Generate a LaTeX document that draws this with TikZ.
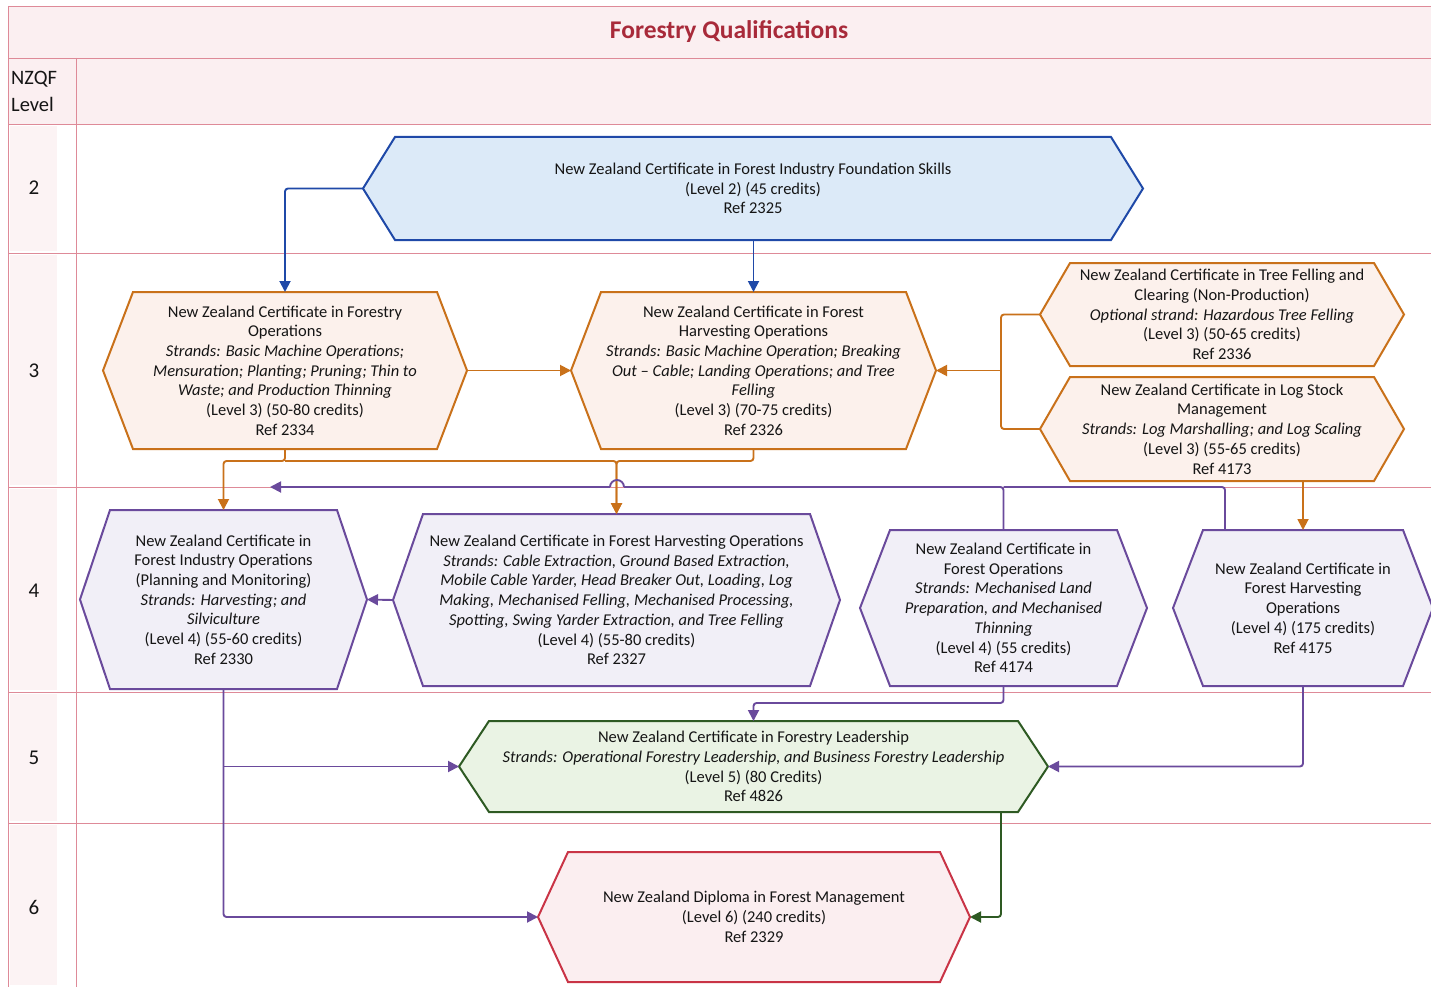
\documentclass[tikz,border=0pt]{standalone}
\usepackage{fontspec}
\setmainfont{Carlito}
\usetikzlibrary{arrows.meta,calc}
\definecolor{bluB}{HTML}{1F49A8}\definecolor{bluF}{HTML}{DCEAF8}
\definecolor{orgB}{HTML}{C9711A}\definecolor{orgF}{HTML}{FCF1EC}
\definecolor{purB}{HTML}{6A4A9C}\definecolor{purF}{HTML}{F1EFF7}
\definecolor{grnB}{HTML}{2E5A23}\definecolor{grnF}{HTML}{EAF3E4}
\definecolor{redB}{HTML}{C93446}\definecolor{redF}{HTML}{FBEEF0}
\definecolor{tblL}{HTML}{DE8A98}\definecolor{hdrF}{HTML}{FBEFF1}\definecolor{strF}{HTML}{FCF3F4}
\definecolor{ttlC}{HTML}{A82A3A}\definecolor{txtC}{HTML}{151515}
\tikzset{
  hexs/.style={line width=2pt, line join=miter},
  bluehex/.style={draw=bluB, fill=bluF},
  orghex/.style={draw=orgB, fill=orgF},
  purhex/.style={draw=purB, fill=purF},
  grnhex/.style={draw=grnB, fill=grnF},
  redhex/.style={draw=redB, fill=redF},
  txt/.style={align=center, inner sep=0pt, text=txtC, font=\fontsize{16.5}{19.7}\selectfont},
  line/.style={line width=1.9pt, rounded corners=3pt},
  conn/.style={line, -{Triangle[length=11pt,width=11pt]}},
  tbl/.style={draw=tblL, line width=0.9pt},
  lvl/.style={inner sep=0pt, text=txtC, font=\fontsize{21}{24}\selectfont}
}
\newcommand{\hexnode}[8]{%
  \path[hexs,#7] (#2-#4,#3) -- (#2-#4+#6,#3-#5) -- (#2+#4-#6,#3-#5) -- (#2+#4,#3) -- (#2+#4-#6,#3+#5) -- (#2-#4+#6,#3+#5) -- cycle;
  \node[inner sep=0pt, outer sep=0pt, minimum width={2*#4pt}, minimum height={2*#5pt}] (#1) at (#2,#3) {};
  \node[txt] (#1-t) at (#2,#3) {#8};
}
\begin{document}
\begin{tikzpicture}[x=1pt,y=-1pt]
\useasboundingbox (0,0) rectangle (1431,987);
% table
\fill[hdrF] (8,6) rectangle (1431,124);
\foreach \a/\b in {124/253,253/487,487/692,692/823,823/987}{
  \fill[strF] (10,\a+2) rectangle (57,\b-2);
}
\foreach \yy in {6,58,124,253,487,692,823}{
  \draw[tbl] (8,\yy) -- (1431,\yy);
}
\draw[tbl] (8,6) -- (8,987);
\draw[tbl] (76,58) -- (76,987);
\node[inner sep=0pt, text=ttlC, font=\fontsize{25.5}{28}\selectfont\bfseries] (title) at (729,32) {Forestry Qualifications};
\node[inner sep=0pt, anchor=west, align=left, text=txtC, font=\fontsize{20.5}{27}\selectfont] (hdr) at (11,91) {NZQF\\Level};
\node[lvl] (l2) at (34,188) {2};
\node[lvl] (l3) at (34,371) {3};
\node[lvl] (l4) at (34,591) {4};
\node[lvl] (l5) at (34,758) {5};
\node[lvl] (l6) at (34,907) {6};
% shapes
\hexnode{Bl}{753}{188.5}{390}{51.5}{32}{bluehex}{New Zealand Certificate in Forest Industry Foundation Skills\\(Level 2) (45 credits)\\Ref 2325}
\hexnode{A}{285}{370.5}{182}{78.5}{30}{orghex}{New Zealand Certificate in Forestry\\Operations\\\textit{Strands: Basic Machine Operations;}\\\textit{Mensuration; Planting; Pruning; Thin to}\\\textit{Waste; and Production Thinning}\\(Level 3) (50-80 credits)\\Ref 2334}
\hexnode{B}{753.5}{370.5}{182.5}{78.5}{30}{orghex}{New Zealand Certificate in Forest\\Harvesting Operations\\\textit{Strands: Basic Machine Operation; Breaking}\\\textit{Out -- Cable; Landing Operations; and Tree}\\\textit{Felling}\\(Level 3) (70-75 credits)\\Ref 2326}
\hexnode{C}{1222}{314.5}{182}{51.5}{30}{orghex}{New Zealand Certificate in Tree Felling and\\Clearing (Non-Production)\\\textit{Optional strand: Hazardous Tree Felling}\\(Level 3) (50-65 credits)\\Ref 2336}
\hexnode{D}{1222}{429}{182}{52}{30}{orghex}{New Zealand Certificate in Log Stock\\Management\\\textit{Strands: Log Marshalling; and Log Scaling}\\(Level 3) (55-65 credits)\\Ref 4173}
\hexnode{E}{223.5}{599.5}{143.5}{89.5}{30}{purhex}{New Zealand Certificate in\\Forest Industry Operations\\(Planning and Monitoring)\\\textit{Strands: Harvesting; and}\\\textit{Silviculture}\\(Level 4) (55-60 credits)\\Ref 2330}
\hexnode{F}{616.5}{600}{223.5}{86}{30}{purhex}{New Zealand Certificate in Forest Harvesting Operations\\\textit{Strands: Cable Extraction, Ground Based Extraction,}\\\textit{Mobile Cable Yarder, Head Breaker Out, Loading, Log}\\\textit{Making, Mechanised Felling, Mechanised Processing,}\\\textit{Spotting, Swing Yarder Extraction, and Tree Felling}\\(Level 4) (55-80 credits)\\Ref 2327}
\hexnode{G}{1003.5}{608}{143.5}{78}{30}{purhex}{New Zealand Certificate in\\Forest Operations\\\textit{Strands: Mechanised Land}\\\textit{Preparation, and Mechanised}\\\textit{Thinning}\\(Level 4) (55 credits)\\Ref 4174}
\hexnode{H}{1303}{608}{130}{78}{30}{purhex}{New Zealand Certificate in\\Forest Harvesting\\Operations\\(Level 4) (175 credits)\\Ref 4175}
\hexnode{I}{753.5}{766.5}{294.5}{45.5}{30}{grnhex}{New Zealand Certificate in Forestry Leadership\\\textit{Strands: Operational Forestry Leadership, and Business Forestry Leadership}\\(Level 5) (80 Credits)\\Ref 4826}
\hexnode{J}{754}{917}{216}{65}{30}{redhex}{New Zealand Diploma in Forest Management\\(Level 6) (240 credits)\\Ref 2329}
% connectors
\draw[conn,bluB] (Bl.west) -| (A.north);
\draw[conn,bluB] (B.north |- Bl.south) -- (B.north);
\draw[conn,orgB] (A.east) -- (B.west);
\draw[line,orgB] (C.west) -- ++(-39,0) |- (D.west);
\coordinate (cd) at (1001,370.5);
\draw[conn,orgB] (cd) -- (B.east);
\coordinate (hA) at (285,461);
\coordinate (hB) at (753.5,461);
\draw[conn,orgB] (A.south) -- (hA) -| (E.north);
\draw[conn,orgB] (hA) -| (F.north);
\draw[conn,orgB] (B.south) -- (hB) -| (F.north);
\coordinate (pj) at (1003.5,487);
\coordinate (hopR) at (624,487);
\coordinate (hopL) at (610,487);
\coordinate (pend) at (270,487);
\draw[line,purB] (G.north) -- (pj) -- (hopR);
\draw[line width=1.9pt,purB] (hopR) arc[start angle=0,end angle=180,radius=7pt];
\draw[conn,purB] (hopL) -- (pend);
\draw[line,purB] ($(H.north)+(-78,0)$) |- (pj);
\draw[conn,purB] (F.west) -- (E.east);
\draw[conn,orgB] (D.south -| H.north) -- (H.north);
\draw[conn,purB] (G.south) -- ++(0,17) -| (I.north);
\draw[conn,purB] (E.south) |- (J.west);
\draw[conn,purB] (E.south |- I.west) -- (I.west);
\draw[conn,purB] (H.south) |- (I.east);
\draw[conn,grnB] ($(I.south)+(247.5,0)$) |- (J.east);
\end{tikzpicture}
\end{document}
